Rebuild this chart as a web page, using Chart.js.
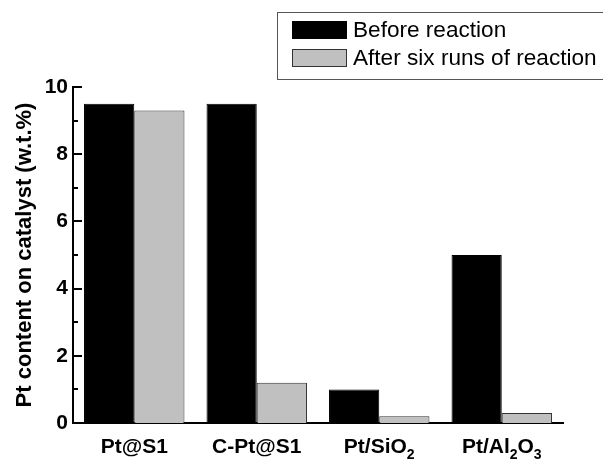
<!DOCTYPE html>
<html lang="en">
<head>
  <meta charset="UTF-8">
  <title>Pt content on catalyst</title>
  <script src="https://cdn.jsdelivr.net/npm/chart.js"></script>
  <style>
    html, body {
      margin: 0;
      padding: 0;
      background: #fff;
    }
    #wrap {
      width: 603px;
      height: 461px;
    }
  </style>
</head>
<body>
  <div id="wrap"><canvas id="ptChart"></canvas></div>
  <script>
    const catalysts = ['Pt@S1', 'C-Pt@S1', 'Pt/SiO₂', 'Pt/Al₂O₃'];
    const beforeReaction = [9.5, 9.5, 1.0, 5.0];
    const afterSixRuns = [9.3, 1.2, 0.2, 0.3];
    const yTicks = [0, 2, 4, 6, 8, 10];
    const yMinorTicks = [1, 3, 5, 7, 9];

    const FONT = "'Liberation Sans', Arial, sans-serif";
    const SUBS = '₀₁₂₃₄₅₆₇₈₉';

    // ticks pointing into the plot, major + minor
    const inwardTicks = {
      id: 'inwardTicks',
      afterDraw(chart) {
        const ctx = chart.ctx;
        const y = chart.scales.y;
        const left = chart.chartArea.left;
        ctx.save();
        ctx.strokeStyle = '#000';
        ctx.lineWidth = 2;
        const draw = (v, len) => {
          const py = Math.round(y.getPixelForValue(v));
          ctx.beginPath();
          ctx.moveTo(left, py);
          ctx.lineTo(left + len, py);
          ctx.stroke();
        };
        yTicks.forEach(v => draw(v, 9));
        yMinorTicks.forEach(v => draw(v, 5));
        ctx.restore();
      }
    };

    // category labels with real subscripts (SiO2, Al2O3)
    const subLabels = {
      id: 'subLabels',
      afterDraw(chart) {
        const ctx = chart.ctx;
        const x = chart.scales.x;
        const base = chart.chartArea.bottom + 30;
        const big = 'bold 21px ' + FONT;
        const small = 'bold 14px ' + FONT;
        ctx.save();
        ctx.fillStyle = '#000';
        ctx.textBaseline = 'alphabetic';
        ctx.textAlign = 'left';
        chart.data.labels.forEach((lbl, i) => {
          const runs = [];
          for (const ch of lbl) {
            const k = SUBS.indexOf(ch);
            const sub = k >= 0;
            const c = sub ? String(k) : ch;
            const last = runs[runs.length - 1];
            if (last && last.sub === sub) last.text += c;
            else runs.push({ text: c, sub });
          }
          let total = 0;
          runs.forEach(r => {
            ctx.font = r.sub ? small : big;
            r.w = ctx.measureText(r.text).width;
            total += r.w;
          });
          let cx = x.getPixelForTick(i) - total / 2;
          runs.forEach(r => {
            ctx.font = r.sub ? small : big;
            ctx.fillText(r.text, cx, r.sub ? base + 6 : base);
            cx += r.w;
          });
        });
        ctx.restore();
      }
    };

    // framed legend in the top right corner
    const boxLegend = {
      id: 'boxLegend',
      afterDraw(chart) {
        const ctx = chart.ctx;
        ctx.save();
        ctx.strokeStyle = '#555';
        ctx.lineWidth = 1;
        ctx.strokeRect(277.5, 12.5, 400, 67);
        ctx.font = '22.6px ' + FONT;
        ctx.textBaseline = 'middle';
        chart.data.datasets.forEach((ds, i) => {
          const top = 21 + i * 28;
          ctx.fillStyle = ds.backgroundColor;
          ctx.fillRect(292, top, 55, 18);
          ctx.strokeStyle = ds.borderColor;
          ctx.strokeRect(292.5, top + 0.5, 54, 17);
          ctx.fillStyle = '#000';
          ctx.fillText(ds.label, 353, top + 10);
        });
        ctx.restore();
      }
    };

    new Chart(document.getElementById('ptChart'), {
      type: 'bar',
      data: {
        labels: catalysts,
        datasets: [{
          label: 'Before reaction',
          data: beforeReaction,
          backgroundColor: '#000000',
          borderColor: '#000000',
          borderWidth: 1
        }, {
          label: 'After six runs of reaction',
          data: afterSixRuns,
          backgroundColor: '#c0c0c0',
          borderColor: '#333333',
          borderWidth: 1
        }]
      },
      options: {
        responsive: true,
        maintainAspectRatio: false,
        animation: false,
        categoryPercentage: 0.82,
        barPercentage: 1.0,
        layout: {
          padding: { top: 87, right: 40, left: 0, bottom: 0 }
        },
        plugins: {
          legend: { display: false },
          tooltip: { enabled: false }
        },
        scales: {
          x: {
            grid: { display: false, drawTicks: false },
            border: { display: true, color: '#000', width: 2 },
            ticks: { display: false },
            afterFit(scale) { scale.height = 38; }
          },
          y: {
            min: 0,
            max: 10,
            afterBuildTicks(scale) {
              scale.ticks = yTicks.map(v => ({ value: v }));
            },
            grid: { display: false, drawTicks: false },
            border: { display: true, color: '#000', width: 2 },
            ticks: {
              color: '#000',
              padding: 5,
              font: { family: FONT, size: 21, weight: 'bold' }
            },
            title: {
              display: true,
              text: 'Pt content on catalyst (w.t.%)',
              color: '#000',
              padding: { top: 12, bottom: 0 },
              font: { family: FONT, size: 22, weight: 'bold' }
            },
            afterFit(scale) { scale.width = 73; }
          }
        }
      },
      plugins: [inwardTicks, subLabels, boxLegend]
    });
  </script>
</body>
</html>
